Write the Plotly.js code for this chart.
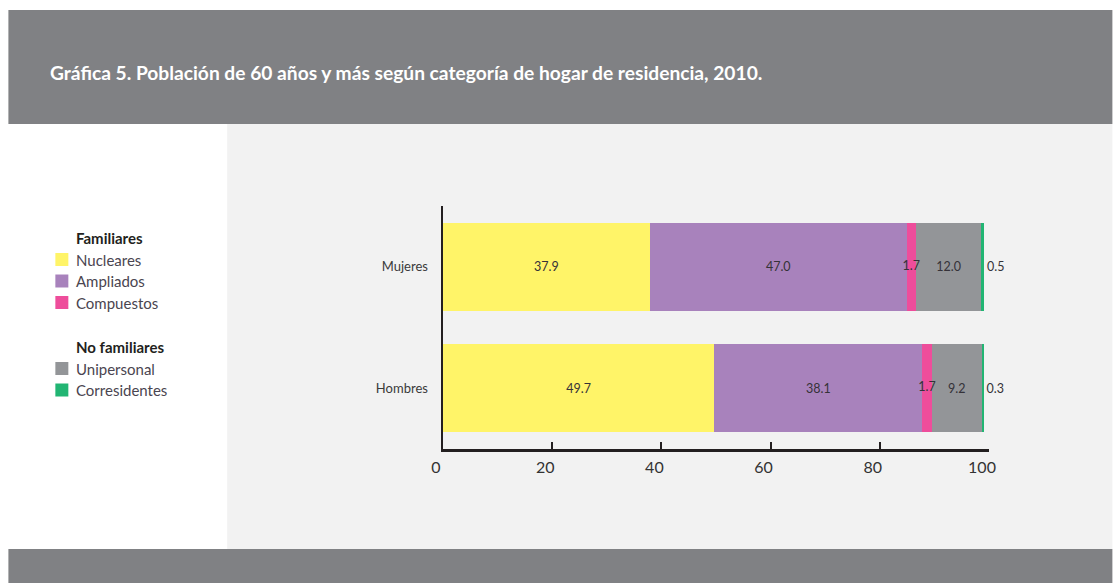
<!DOCTYPE html>
<html>
<head>
<meta charset="utf-8">
<script src="https://cdn.plot.ly/plotly-3.0.1.min.js"></script>
<style>
html,body{margin:0;padding:0;background:#ffffff;}
#chart{width:1113px;height:583px;}
</style>
</head>
<body>
<div id="chart"></div>
<script>
// ---- data ----
const categories = ['Mujeres', 'Hombres'];
const seriesNames = ['Nucleares', 'Ampliados', 'Compuestos', 'Unipersonal', 'Corresidentes'];
const nucleares = [37.9, 49.7];
const ampliados = [47.0, 38.1];
const compuestos = [1.7, 1.7];
const unipersonal = [12.0, 9.2];
const corresidentes = [0.5, 0.3];
const groupTitles = ['Familiares', 'No familiares'];
const groupMembers = [[0, 1, 2], [3, 4]];
const xTicks = [0, 20, 40, 60, 80, 100];
const titleText = 'Gráfica 5. Población de 60 años y más según categoría de hogar de residencia, 2010.';

// ---- styles ----
const colors = ['#fff468', '#a882bc', '#ee4d9b', '#939598', '#22b573'];
const FONT = 'Lato, "Open Sans", sans-serif';
const W = 1113, H = 583, L = 443, R = W - 989.5, T = 206, B = H - 449;
const px = x => (x - L) / (W - L - R);
const py = y => (H - B - y) / (H - T - B);
const LABEL_FONT = { family: FONT, size: 12.5, color: '#353238' };

const values = [nucleares, ampliados, compuestos, unipersonal, corresidentes];
const traces = values.map((v, i) => ({
  type: 'bar',
  orientation: 'h',
  name: seriesNames[i],
  y: categories,
  x: v,
  marker: { color: colors[i], line: { width: 0 } },
  // narrow "Compuestos" segment: its labels are drawn by a text trace above all bars
  text: i === 2 ? v.map(() => '') : v.map(d => d.toFixed(1)),
  textposition: i === 4 ? 'outside' : 'inside',
  textangle: 0,
  insidetextanchor: 'middle',
  constraintext: 'none',
  cliponaxis: false,
  textfont: LABEL_FONT,
  insidetextfont: LABEL_FONT,
  outsidetextfont: LABEL_FONT,
  hoverinfo: 'name+x',
  showlegend: false
}));
// labels for the narrow Compuestos segments, centred in the stacked segment
traces.push({
  type: 'scatter',
  mode: 'text',
  y: categories,
  x: compuestos.map((c, j) => nucleares[j] + ampliados[j] + c / 2),
  text: compuestos.map(d => d.toFixed(1)),
  textposition: 'middle center',
  textfont: LABEL_FONT,
  cliponaxis: false,
  hoverinfo: 'skip',
  showlegend: false
});

const shapes = [
  { type: 'rect', xref: 'paper', yref: 'paper', layer: 'below', x0: px(8), x1: px(1113), y0: py(124), y1: py(10), fillcolor: '#808184', line: { width: 0 } },
  { type: 'rect', xref: 'paper', yref: 'paper', layer: 'below', x0: px(227), x1: px(1113), y0: py(549), y1: py(124), fillcolor: '#f2f2f2', line: { width: 0 } },
  { type: 'rect', xref: 'paper', yref: 'paper', layer: 'below', x0: px(8), x1: px(1113), y0: py(583), y1: py(549), fillcolor: '#808184', line: { width: 0 } }
];
const annotations = [];

// manual legend with group titles
const groupTitleY = [238, 347];
groupTitles.forEach((gt, g) => {
  annotations.push({
    xref: 'paper', yref: 'paper', x: px(74), y: py(groupTitleY[g]), xanchor: 'left', yanchor: 'middle',
    text: '<b>' + gt + '</b>', showarrow: false,
    font: { family: FONT, size: 15, color: '#231f20' }
  });
  groupMembers[g].forEach((si, k) => {
    const cy = groupTitleY[g] + 21.5 * (k + 1);
    shapes.push({ type: 'rect', xref: 'paper', yref: 'paper', x0: px(55), x1: px(68), y0: py(cy + 6.5), y1: py(cy - 6.5), fillcolor: colors[si], line: { width: 0 } });
    annotations.push({
      xref: 'paper', yref: 'paper', x: px(74), y: py(cy), xanchor: 'left', yanchor: 'middle',
      text: seriesNames[si], showarrow: false,
      font: { family: FONT, size: 15, color: '#4a4550' }
    });
  });
});

const layout = {
  width: W, height: H,
  margin: { l: L, r: R, t: T, b: B, pad: 0 },
  paper_bgcolor: '#ffffff',
  plot_bgcolor: 'rgba(0,0,0,0)',
  barmode: 'stack',
  bargap: 0.275,
  showlegend: false,
  title: {
    text: '<b>' + titleText + '</b>',
    font: { family: FONT, size: 19.2, color: '#ffffff' },
    xref: 'container', yref: 'container',
    x: 50 / W, xanchor: 'left', y: 1 - 73 / H, yanchor: 'middle'
  },
  xaxis: {
    range: [0, 100], tickvals: xTicks, ticktext: xTicks.map(String),
    showgrid: false, zeroline: false,
    showline: true, linecolor: '#231f20', linewidth: 2.5,
    ticks: 'inside', ticklen: 7, tickwidth: 2, tickcolor: '#231f20',
    tickfont: { family: FONT, size: 16, color: '#333333' },
    ticklabelshift: -7, ticklabelstandoff: 2,
    fixedrange: true
  },
  yaxis: {
    autorange: 'reversed',
    showgrid: false, zeroline: false,
    showline: true, linecolor: '#231f20', linewidth: 2.5,
    ticks: '', ticklabelstandoff: 10,
    tickfont: { family: FONT, size: 13, color: '#3a3a3a' },
    fixedrange: true
  },
  shapes: shapes,
  annotations: annotations,
  font: { family: FONT }
};

Plotly.newPlot('chart', traces, layout, { displayModeBar: false, staticPlot: true });
</script>
</body>
</html>
